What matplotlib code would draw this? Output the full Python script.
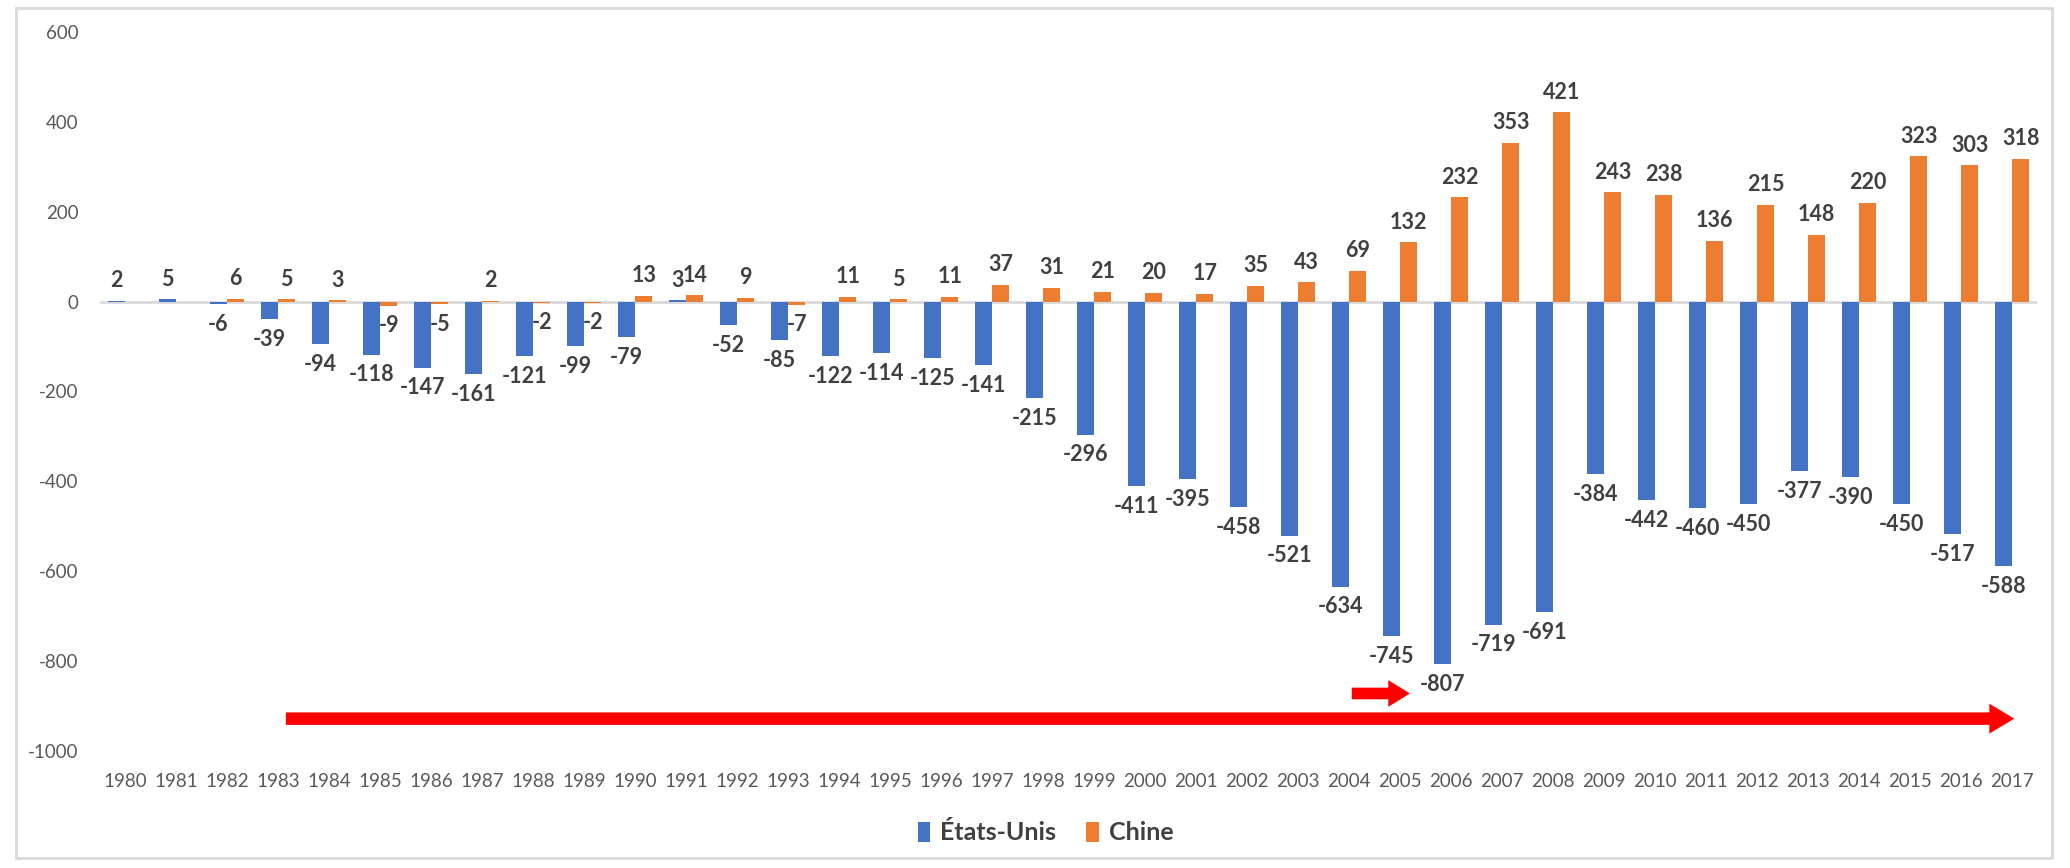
import numpy as np
import matplotlib
matplotlib.use("Agg")
import matplotlib.pyplot as plt
from matplotlib.patches import FancyArrowPatch, Rectangle

years = [str(y) for y in range(1980, 2018)]
etats_unis = [2, 5, -6, -39, -94, -118, -147, -161, -121, -99, -79, 3, -52, -85,
              -122, -114, -125, -141, -215, -296, -411, -395, -458, -521, -634,
              -745, -807, -719, -691, -384, -442, -460, -450, -377, -390, -450,
              -517, -588]
chine = [None, None, 6, 5, 3, -9, -5, 2, -2, -2, 13, 14, 9, -7, 11, 5, 11, 37,
         31, 21, 20, 17, 35, 43, 69, 132, 232, 353, 421, 243, 238, 136, 215,
         148, 220, 323, 303, 318]
y_ticks = list(range(-1000, 601, 200))

plt.rcParams['font.family'] = ['Lato', 'DejaVu Sans']

W, H = 2070, 868
fig = plt.figure(figsize=(W / 100, H / 100), dpi=100)
ax = fig.add_axes([99.5 / W, 1 - 751 / H, (2037.5 - 99.5) / W, (751 - 32) / H])

x = np.arange(len(years))
us = np.array(etats_unis, dtype=float)
cn = np.array([np.nan if v is None else v for v in chine], dtype=float)
bw = 0.34
c_us = '#4472C4'
c_cn = '#ED7D31'
ax.bar(x - bw / 2, us, bw, color=c_us, label='États-Unis', zorder=2)
ax.bar(x + bw / 2, np.nan_to_num(cn), bw, color=c_cn, label='Chine', zorder=2)
ax.axhline(0, color='#D9D9D9', lw=2, zorder=1)

lab_kw = dict(fontsize=15.5, fontweight='bold', color='#404040', ha='center',
              textcoords='offset points')
for xi, v in zip(x - bw / 2, us):
    ax.annotate(f'{int(v)}', (xi, v), xytext=(0, 7 if v >= 0 else -7),
                va='bottom' if v >= 0 else 'top', **lab_kw)
for xi, v in zip(x + bw / 2, cn):
    if np.isnan(v):
        continue
    ax.annotate(f'{int(v)}', (xi, v), xytext=(0, 7 if v >= 0 else -7),
                va='bottom' if v >= 0 else 'top', **lab_kw)

ax.set_xlim(-0.5, len(years) - 0.5)
ax.set_ylim(-1000, 600)
ax.set_yticks(y_ticks)
ax.set_yticklabels([str(t) for t in y_ticks])
ax.set_xticks(x)
ax.set_xticklabels(years)
ax.tick_params(axis='y', length=0, pad=15, labelsize=13.5, labelcolor='#595959')
ax.tick_params(axis='x', length=0, pad=16, labelsize=13.5, labelcolor='#595959')
for s in ax.spines.values():
    s.set_visible(False)

# red arrows
big = FancyArrowPatch((3.1, -928), (37.1, -928), arrowstyle='simple,head_width=1.8,head_length=1.5,tail_width=0.75',
                      mutation_scale=12, color='#FF0000', lw=0, zorder=3)
ax.add_patch(big)
small = FancyArrowPatch((24.0, -872), (25.25, -872), arrowstyle='simple,head_width=1.6,head_length=1.3,tail_width=0.7',
                        mutation_scale=12, color='#FF0000', lw=0, zorder=3)
ax.add_patch(small)

# chart border
fig.patches.append(Rectangle((16 / W, 1 - 858 / H), (2052 - 16) / W, (858 - 8) / H,
                             transform=fig.transFigure, fill=False, edgecolor='#D9D9D9', lw=2))

leg = fig.legend(loc='center', bbox_to_anchor=(0.505, 1 - 833 / H), ncol=2, frameon=False,
                 handlelength=0.5, handleheight=0.9, handletextpad=0.4, columnspacing=1.2,
                 prop={'size': 18, 'weight': 'bold'})
for t in leg.get_texts():
    t.set_color('#404040')

fig.savefig('out.png', dpi=100)
